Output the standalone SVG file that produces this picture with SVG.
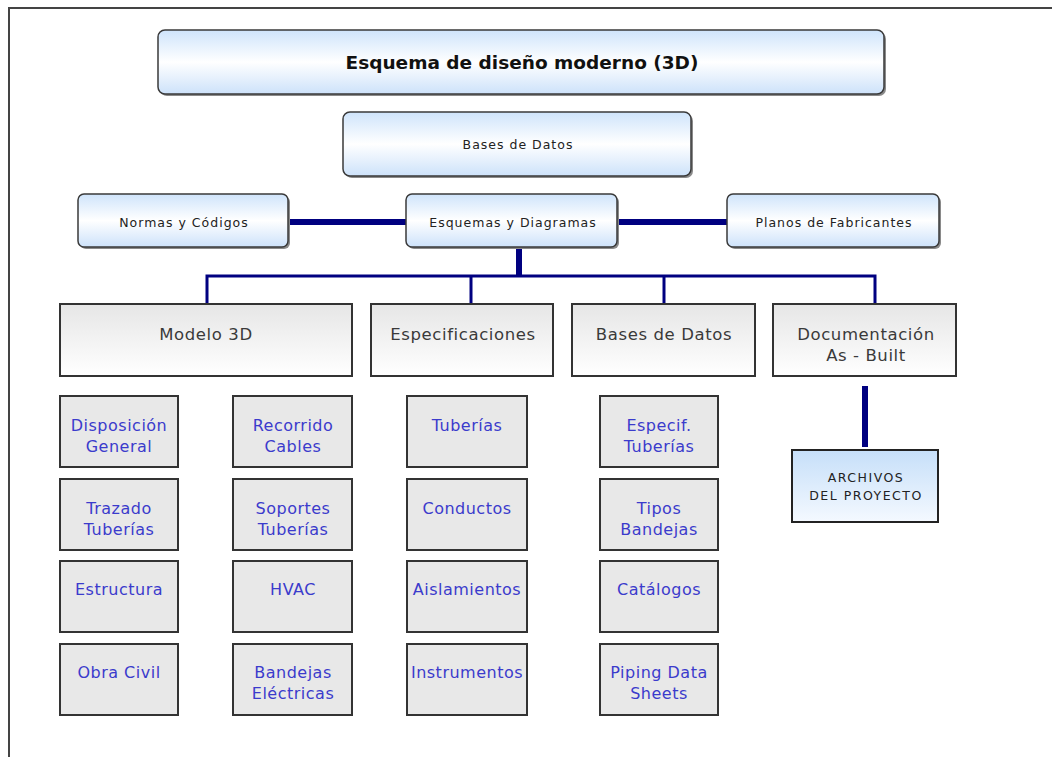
<svg xmlns="http://www.w3.org/2000/svg" width="1052" height="757" viewBox="0 0 1052 757">
<defs>
<linearGradient id="gBlue" x1="0" y1="0" x2="0" y2="1">
<stop offset="0" stop-color="#cfe4fb"/>
<stop offset="0.5" stop-color="#ffffff"/>
<stop offset="1" stop-color="#cde2fa"/>
</linearGradient>
<linearGradient id="gGray" x1="0" y1="0" x2="0" y2="1">
<stop offset="0" stop-color="#e6e6e6"/>
<stop offset="1" stop-color="#ffffff"/>
</linearGradient>
<linearGradient id="gArch" x1="0" y1="0" x2="0" y2="1">
<stop offset="0" stop-color="#c6dff9"/>
<stop offset="1" stop-color="#f4f9ff"/>
</linearGradient>
</defs>
<style>
.shadow{fill:#8a8a8a;}
.rb{fill:url(#gBlue);stroke:#3a3a3a;stroke-width:1.5;}
.mid{fill:url(#gGray);stroke:#333;stroke-width:2;}
.sm{fill:#e8e8e8;stroke:#333;stroke-width:2;}
.arch{fill:url(#gArch);stroke:#222;stroke-width:2;}
.title{font-family:"DejaVu Sans","Liberation Sans",sans-serif;font-weight:bold;font-size:18.5px;fill:#111;text-anchor:middle;}
.t2{font-family:"DejaVu Sans","Liberation Sans",sans-serif;font-size:12.5px;letter-spacing:1px;fill:#222;text-anchor:middle;}
.t3{font-family:"DejaVu Sans","Liberation Sans",sans-serif;font-size:16.5px;letter-spacing:0.6px;fill:#3a3a3a;text-anchor:middle;}
.t4{font-family:"DejaVu Sans","Liberation Sans",sans-serif;font-size:16px;letter-spacing:0.5px;fill:#3b3bcc;text-anchor:middle;}
.t5{font-family:"DejaVu Sans","Liberation Sans",sans-serif;font-size:12.5px;letter-spacing:1.5px;fill:#222;text-anchor:middle;}
.thick{stroke:#000080;stroke-width:6;fill:none;}
.thin{stroke:#000080;stroke-width:3;fill:none;}
.border{stroke:#444;stroke-width:2;fill:none;}
</style>
<path class="border" d="M9,757 L9,8 L1052,8"/>
<g id="connectors">
<line class="thick" x1="288" y1="222" x2="406" y2="222"/>
<line class="thick" x1="617" y1="222" x2="727" y2="222"/>
<line class="thick" x1="519" y1="248" x2="519" y2="276"/>
<path class="thin" d="M207,303 L207,276 L875,276 L875,303"/>
<line class="thin" x1="471" y1="276" x2="471" y2="303"/>
<line class="thin" x1="664" y1="276" x2="664" y2="303"/>
<line class="thick" x1="865" y1="386" x2="865" y2="447"/>
</g>
<g id="n-title">
<rect class="shadow" x="160" y="32" width="726" height="64" rx="7"/>
<rect class="rb" x="158" y="30" width="726" height="64" rx="7"/>
<text class="title" x="522" y="69">Esquema de diseño moderno (3D)</text>
</g>
<g id="n-bases-top">
<rect class="shadow" x="345" y="114" width="348" height="64" rx="7"/>
<rect class="rb" x="343" y="112" width="348" height="64" rx="7"/>
<text class="t2" x="518" y="149">Bases de Datos</text>
</g>
<g id="n-normas">
<rect class="shadow" x="80" y="196" width="210" height="53" rx="6"/>
<rect class="rb" x="78" y="194" width="210" height="53" rx="6"/>
<text class="t2" x="184" y="227">Normas y Códigos</text>
</g>
<g id="n-esquemas">
<rect class="shadow" x="408" y="196" width="211" height="53" rx="6"/>
<rect class="rb" x="406" y="194" width="211" height="53" rx="6"/>
<text class="t2" x="513" y="227">Esquemas y Diagramas</text>
</g>
<g id="n-planos">
<rect class="shadow" x="729" y="196" width="212" height="53" rx="6"/>
<rect class="rb" x="727" y="194" width="212" height="53" rx="6"/>
<text class="t2" x="834" y="227">Planos de Fabricantes</text>
</g>
<g id="n-modelo">
<rect class="mid" x="60" y="304" width="292" height="72"/>
<text class="t3" x="206" y="340">Modelo 3D</text>
</g>
<g id="n-especificaciones">
<rect class="mid" x="371" y="304" width="182" height="72"/>
<text class="t3" x="463" y="340">Especificaciones</text>
</g>
<g id="n-bases">
<rect class="mid" x="572" y="304" width="183" height="72"/>
<text class="t3" x="664" y="340">Bases de Datos</text>
</g>
<g id="n-documentacion">
<rect class="mid" x="773" y="304" width="183" height="72"/>
<text class="t3" x="866" y="340">Documentación</text>
<text class="t3" x="866" y="361">As - Built</text>
</g>
<g id="n-archivos">
<rect class="arch" x="792" y="450" width="146" height="72"/>
<text class="t5" x="866" y="482">ARCHIVOS</text>
<text class="t5" x="866" y="500">DEL PROYECTO</text>
</g>
<g id="n-disposicion"><rect class="sm" x="60" y="396" width="118" height="71"/><text class="t4" x="119" y="431">Disposición</text><text class="t4" x="119" y="452">General</text></g>
<g id="n-trazado"><rect class="sm" x="60" y="479" width="118" height="71"/><text class="t4" x="119" y="514">Trazado</text><text class="t4" x="119" y="535">Tuberías</text></g>
<g id="n-estructura"><rect class="sm" x="60" y="561" width="118" height="71"/><text class="t4" x="119" y="595">Estructura</text></g>
<g id="n-obra"><rect class="sm" x="60" y="644" width="118" height="71"/><text class="t4" x="119" y="678">Obra Civil</text></g>
<g id="n-recorrido"><rect class="sm" x="233" y="396" width="119" height="71"/><text class="t4" x="293" y="431">Recorrido</text><text class="t4" x="293" y="452">Cables</text></g>
<g id="n-soportes"><rect class="sm" x="233" y="479" width="119" height="71"/><text class="t4" x="293" y="514">Soportes</text><text class="t4" x="293" y="535">Tuberías</text></g>
<g id="n-hvac"><rect class="sm" x="233" y="561" width="119" height="71"/><text class="t4" x="293" y="595">HVAC</text></g>
<g id="n-bandejas"><rect class="sm" x="233" y="644" width="119" height="71"/><text class="t4" x="293" y="678">Bandejas</text><text class="t4" x="293" y="699">Eléctricas</text></g>
<g id="n-tuberias"><rect class="sm" x="407" y="396" width="120" height="71"/><text class="t4" x="467" y="431">Tuberías</text></g>
<g id="n-conductos"><rect class="sm" x="407" y="479" width="120" height="71"/><text class="t4" x="467" y="514">Conductos</text></g>
<g id="n-aislamientos"><rect class="sm" x="407" y="561" width="120" height="71"/><text class="t4" x="467" y="595">Aislamientos</text></g>
<g id="n-instrumentos"><rect class="sm" x="407" y="644" width="120" height="71"/><text class="t4" x="467" y="678">Instrumentos</text></g>
<g id="n-especif"><rect class="sm" x="600" y="396" width="118" height="71"/><text class="t4" x="659" y="431">Especif.</text><text class="t4" x="659" y="452">Tuberías</text></g>
<g id="n-tipos"><rect class="sm" x="600" y="479" width="118" height="71"/><text class="t4" x="659" y="514">Tipos</text><text class="t4" x="659" y="535">Bandejas</text></g>
<g id="n-catalogos"><rect class="sm" x="600" y="561" width="118" height="71"/><text class="t4" x="659" y="595">Catálogos</text></g>
<g id="n-piping"><rect class="sm" x="600" y="644" width="118" height="71"/><text class="t4" x="659" y="678">Piping Data</text><text class="t4" x="659" y="699">Sheets</text></g>
</svg>
